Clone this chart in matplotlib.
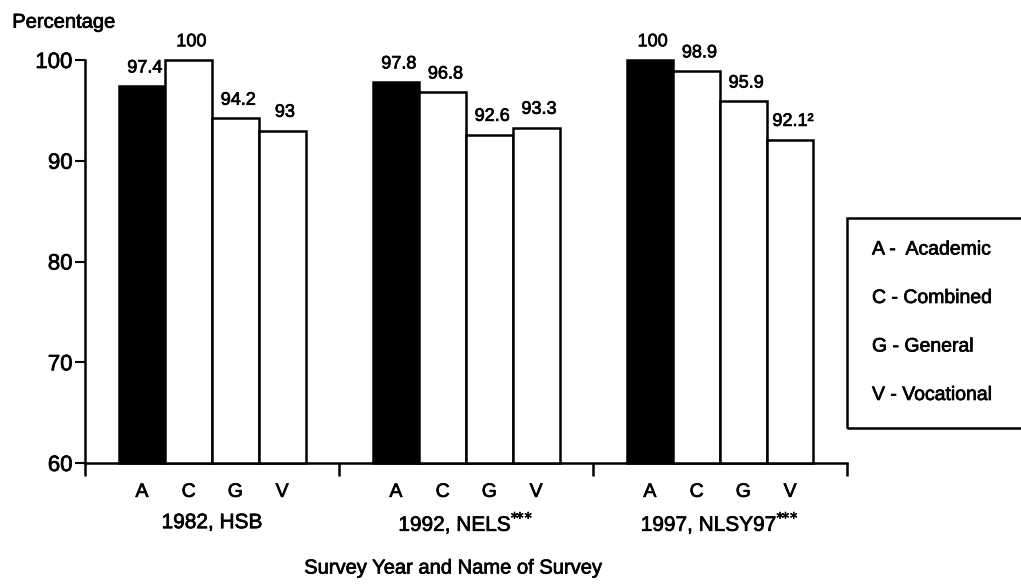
import matplotlib
matplotlib.use("Agg")
import matplotlib.pyplot as plt
import matplotlib.patheffects as pe
from matplotlib.patches import Rectangle
from matplotlib.text import Text
from matplotlib.transforms import blended_transform_factory

plt.rcParams["font.family"] = ["Liberation Sans", "DejaVu Sans"]

# Data
groups = ["1982, HSB", r"1992, NELS$^{*\!\!*\!\!*}$", r"1997, NLSY97$^{*\!\!*\!\!*}$"]
codes = ["A", "C", "G", "V"]
academic = [97.4, 97.8, 100]
combined = [100, 96.8, 98.9]
general = [94.2, 92.6, 95.9]
vocational = [93, 93.3, 92.1]
footnotes = {(3, 2): "²"}  # (series, group) -> superscript note
legend_labels = ["A -  Academic", "C - Combined", "G - General", "V - Vocational"]

series = [academic, combined, general, vocational]
fills = ["black", "white", "white", "white"]

fig = plt.figure(figsize=(10.21, 5.85), dpi=100)
ax = fig.add_axes([0.0833, 0.2085, 0.7463, 0.6889])

width = 0.184
bar_x = []
for j, vals in enumerate(series):
    xs = [i + 0.5 + (j - 1.5) * width for i in range(len(groups))]
    bar_x.append(xs)
    ax.bar(xs, [v - 60 for v in vals], width, bottom=60, color=fills[j],
           edgecolor="black", linewidth=1.8, clip_on=False, zorder=3)
    for i, (x, v) in enumerate(zip(xs, vals)):
        label = f"{v:g}" + footnotes.get((j, i), "")
        ax.annotate(label, (x, v), xytext=(2, 7), textcoords="offset points",
                    ha="center", va="bottom", fontsize=13)

ax.set_xlim(0, 3)
ax.set_ylim(60, 100)
ax.set_yticks([60, 70, 80, 90, 100])
ax.tick_params(axis="y", labelsize=16, length=7, width=1.5, direction="out", pad=2)

# category letters as major ticks, group separators as minor ticks
centers = sorted(x for xs in bar_x for x in xs)
ax.set_xticks(centers)
ax.set_xticklabels(codes * len(groups), fontsize=14)
ax.tick_params(axis="x", which="major", length=0, pad=15)
ax.set_xticks([0, 1, 2, 3], minor=True)
ax.tick_params(axis="x", which="minor", length=9, width=1.8, direction="out")

trans = blended_transform_factory(ax.transData, ax.transAxes)
for i, g in enumerate(groups):
    ax.text(i + 0.5, -0.148, g, transform=trans, ha="center", va="center", fontsize=15)

for side in ["top", "right"]:
    ax.spines[side].set_visible(False)
ax.spines["left"].set_linewidth(1.8)
ax.spines["bottom"].set_linewidth(1.8)

fig.text(0.012, 0.962, "Percentage", fontsize=14.5, ha="left", va="center")
fig.text(0.444, 0.029, "Survey Year and Name of Survey", fontsize=14.5,
         ha="center", va="center")

# legend box
W, H = 1021, 585
fig.patches.append(Rectangle((847 / W, 1 - 428 / H), 200 / W, 210 / H,
                             transform=fig.transFigure, fill=False,
                             edgecolor="black", linewidth=1.8))
for k, txt in enumerate(legend_labels):
    y = 250 + k * 48.5
    fig.text(872 / W, 1 - y / H, txt, fontsize=14, ha="left", va="center")

# the scanned original has heavier type
for t in fig.findobj(Text):
    t.set_path_effects([pe.withStroke(linewidth=0.5, foreground="black")])

fig.savefig("out.png", dpi=100)
